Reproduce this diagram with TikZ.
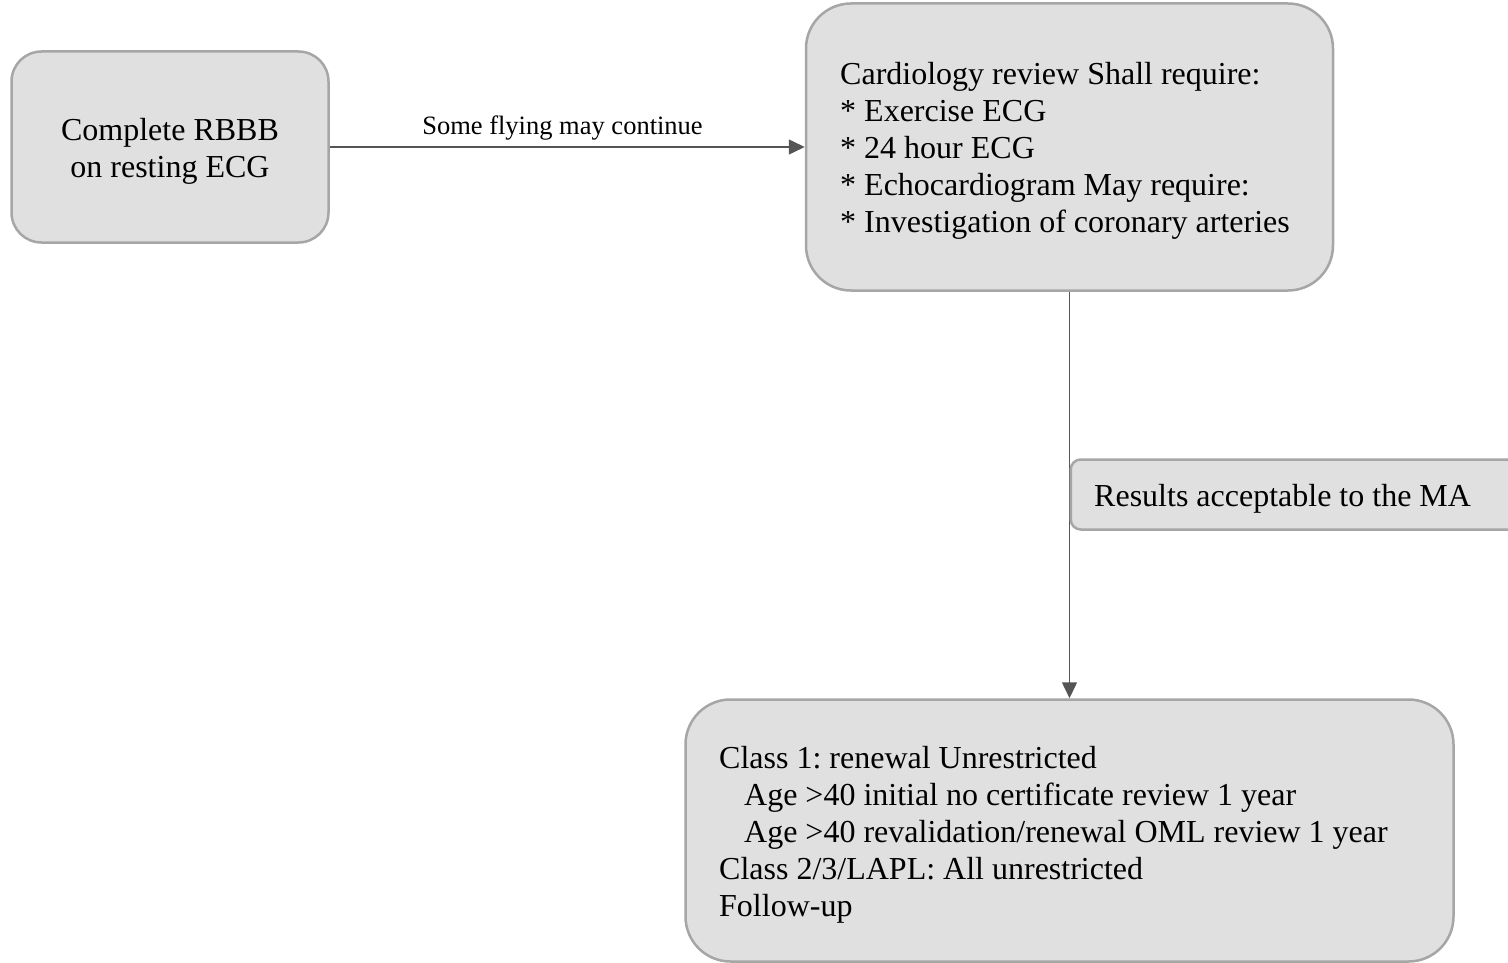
\documentclass[tikz,border=0pt]{standalone}
\usepackage{fontspec}
\setmainfont{Liberation Serif}
\usetikzlibrary{arrows.meta}
\definecolor{boxfill}{RGB}{224,224,224}
\definecolor{boxline}{RGB}{166,166,166}
\definecolor{arrowcol}{RGB}{85,85,85}
\begin{document}
\begin{tikzpicture}[x=1pt,y=-1pt,
  box/.style={draw=boxline, fill=boxfill, line width=2.5pt, rounded corners=#1, inner sep=0pt},
  box/.default=30pt,
  boxtext/.style={inner sep=0pt, font=\fontsize{32}{37}\selectfont\frenchspacing},
  conn/.style={draw=arrowcol, line width=1.5pt, -{Triangle[length=16pt,width=15pt]}},
  lbl/.style={font=\fontsize{26.5}{30}\selectfont, inner sep=0pt}]
\useasboundingbox (0,0) rectangle (1508,963);

% boxes
\node[box=30pt, minimum width=317pt, minimum height=191pt] (rbbb) at (170,147) {};
\node[box=45pt, minimum width=527pt, minimum height=287pt] (cardio) at (1069.5,147) {};
\node[box=45pt, minimum width=768pt, minimum height=262pt] (outcome) at (1069.5,830.5) {};

% box texts
\node[boxtext, align=center] (rbbbtext) at ([yshift=-4pt]rbbb.center)
  {Complete RBBB\\on resting ECG};
\node[boxtext, align=left, anchor=west] (cardiotext) at (840,151)
  {Cardiology review Shall require:\\
  {*} Exercise ECG\\
  {*} 24 hour ECG\\
  {*} Echocardiogram May require:\\
  {*} Investigation of coronary arteries};
\node[boxtext, align=left, anchor=west] (outcometext) at (719,834.5)
  {Class 1: renewal Unrestricted\\
  \hspace*{25pt}Age >40 initial no certificate review 1 year\\
  \hspace*{25pt}Age >40 revalidation/renewal OML review 1 year\\
  Class 2/3/LAPL: All unrestricted\\
  Follow-up};

% connectors
\draw[conn] (rbbb.east) -- node[lbl, pos=0.49, above=6pt] (fly) {Some flying may continue} (cardio.west);
\draw[conn] (cardio.south) -- (outcome.north);

% condition box on the vertical connector
\node[box=10pt, anchor=west, minimum width=460pt, minimum height=70pt] (results) at (1069.5,494.5) {};
\node[boxtext, anchor=west] (resultstext) at (1094,498.5) {Results acceptable to the MA};
\end{tikzpicture}
\end{document}
